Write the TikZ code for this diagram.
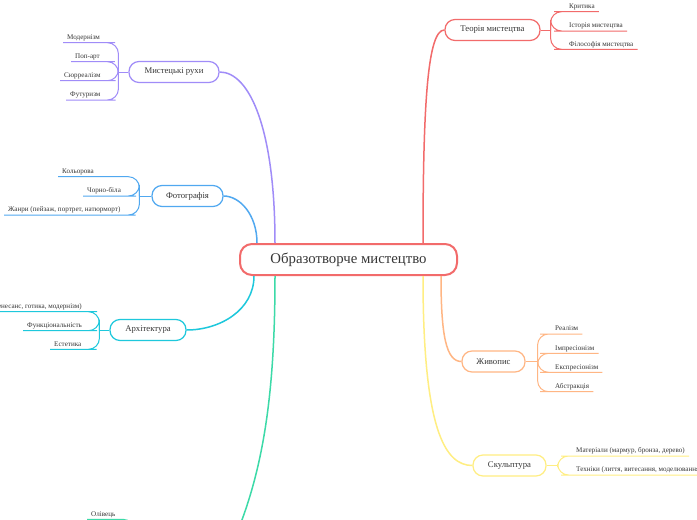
\documentclass[tikz,border=0pt]{standalone}
\usepackage{fontspec}
\setmainfont{Liberation Serif}
\definecolor{cred}{RGB}{242,107,107}
\definecolor{cpur}{RGB}{160,140,248}
\definecolor{cblu}{RGB}{80,168,240}
\definecolor{ccya}{RGB}{30,200,220}
\definecolor{cgrn}{RGB}{60,218,168}
\definecolor{cora}{RGB}{255,182,132}
\definecolor{cyel}{RGB}{255,238,130}
\definecolor{txt}{RGB}{55,55,55}
\tikzset{
  central/.style={draw=cred, line width=2pt, rounded corners=12pt, fill=white,
    minimum width=217pt, minimum height=31pt, inner sep=0pt,
    font=\fontsize{14.8}{16}\selectfont, text=txt},
  branch/.style={draw=#1, line width=1.2pt, rounded corners=10pt, fill=white,
    minimum height=21pt, inner sep=0pt, font=\fontsize{8.7}{10}\selectfont, text=txt},
  leaf/.style={font=\fontsize{7.1}{8}\selectfont, text=txt, inner xsep=4pt, inner ysep=3pt, text depth=0pt},
  conn/.style={draw=#1, line width=1.5pt},
  sub/.style={draw=#1, line width=1pt, rounded corners=11pt},
}
\begin{document}
\begin{tikzpicture}[x=1pt,y=-1pt]
\fill[white] (0,0) rectangle (697,520);
\useasboundingbox (0,0) rectangle (697,520);

% main nodes
\node[central] (C) at (348.5,259.5) {Образотворче мистецтво};
\node[branch=cred, minimum width=95pt] (T) at (492.5,30) {Теорія мистецтва};
\node[branch=cpur, minimum width=90pt] (M) at (174,72) {Мистецькі рухи};
\node[branch=cblu, minimum width=71pt] (F) at (187.5,196) {Фотографія};
\node[branch=ccya, minimum width=76pt] (A) at (148,330) {Архітектура};
\node[branch=cora, minimum width=63pt] (Z) at (493.5,361.5) {Живопис};
\node[branch=cyel, minimum width=73pt] (S) at (509.5,465.5) {Скульптура};
\coordinate (G) at (222,566);

% main connectors
\draw[conn=cred] ([xshift=74.5pt]C.north) .. controls (423,100) and (428,30) .. (T.west);
\draw[conn=cpur] ([xshift=-73.5pt]C.north) .. controls (275,130) and (250,72) .. (M.east);
\draw[conn=cblu] ([xshift=-91.5pt]C.north) .. controls (257,215) and (240,196) .. (F.east);
\draw[conn=ccya] ([xshift=-94.5pt]C.south) .. controls (254,310) and (220,330) .. (A.east);
\draw[conn=cgrn] ([xshift=-73.5pt]C.south) .. controls (275,410) and (260,490) .. (G);
\draw[conn=cora] ([xshift=92.5pt]C.south) .. controls (441,335) and (446,361.5) .. (Z.west);
\draw[conn=cyel] ([xshift=74.5pt]C.south) .. controls (423,430) and (445,465.5) .. (S.west);

% Теорія мистецтва
\coordinate (Tf) at ([xshift=10pt]T.east);
\node[leaf, anchor=south west] (t1) at (565,11.7) {Критика};
\node[leaf, anchor=south west] (t2) at (565,31) {Історія мистецтва};
\node[leaf, anchor=south west] (t3) at (565,49.3) {Філософія мистецтва};
\draw[sub=cred] (T.east) -- (Tf);
\foreach \n in {t1,t2,t3} \draw[sub=cred] (Tf) |- (\n.south west) -- (\n.south east);

% Мистецькі рухи
\coordinate (Mf) at ([xshift=-10pt]M.west);
\node[leaf, anchor=south west] (m1) at (63,42.7) {Модернізм};
\node[leaf, anchor=south west] (m2) at (71,61.7) {Поп-арт};
\node[leaf, anchor=south west] (m3) at (60,80.7) {Сюрреалізм};
\node[leaf, anchor=south west] (m4) at (66,100) {Футуризм};
\draw[sub=cpur] (M.west) -- (Mf);
\foreach \n in {m1,m2,m3,m4} \draw[sub=cpur] (Mf) |- (\n.south east) -- (\n.south west);

% Фотографія
\coordinate (Ff) at ([xshift=-12pt]F.west);
\node[leaf, anchor=south west] (f1) at (58,176.7) {Кольорова};
\node[leaf, anchor=south west] (f2) at (83,196) {Чорно-біла};
\node[leaf, anchor=south west] (f3) at (4,215) {Жанри (пейзаж, портрет, натюрморт)};
\draw[sub=cblu] (F.west) -- (Ff);
\foreach \n in {f1,f2,f3} \draw[sub=cblu] (Ff) |- (\n.south east) -- (\n.south west);

% Архітектура
\coordinate (Af) at ([xshift=-10pt]A.west);
\node[leaf, anchor=south east] (a1) at (86,311.7) {Стилі (ренесанс, готика, модернізм)};
\node[leaf, anchor=south west] (a2) at (23,330.7) {Функціональність};
\node[leaf, anchor=south west] (a3) at (50,349.3) {Естетика};
\draw[sub=ccya] (A.west) -- (Af);
\foreach \n in {a1,a2,a3} \draw[sub=ccya] (Af) |- (\n.south east) -- (\n.south west);

% Живопис
\coordinate (Zf) at ([xshift=12pt]Z.east);
\node[leaf, anchor=south west] (z1) at (551,334) {Реалізм};
\node[leaf, anchor=south west] (z2) at (551,353.3) {Імпресіонізм};
\node[leaf, anchor=south west] (z3) at (551,372.3) {Експресіонізм};
\node[leaf, anchor=south west] (z4) at (551,391.7) {Абстракція};
\draw[sub=cora] (Z.east) -- (Zf);
\foreach \n in {z1,z2,z3,z4} \draw[sub=cora] (Zf) |- (\n.south west) -- (\n.south east);

% Скульптура
\coordinate (Sf) at ([xshift=11pt]S.east);
\node[leaf, anchor=south west] (s1) at (572,456) {Матеріали (мармур, бронза, дерево)};
\node[leaf, anchor=south west] (s2) at (572,475) {Техніки (лиття, витесання, моделювання)};
\draw[sub=cyel] (S.east) -- (Sf);
\foreach \n in {s1,s2} \draw[sub=cyel] (Sf) |- (\n.south west) -- (\n.south east);

% green branch child
\coordinate (Gf) at (134,548);
\node[leaf, anchor=south west] (o1) at (87,519.3) {Олівець};
\draw[sub=cgrn] (o1.south west) -| (Gf);
\end{tikzpicture}
\end{document}
